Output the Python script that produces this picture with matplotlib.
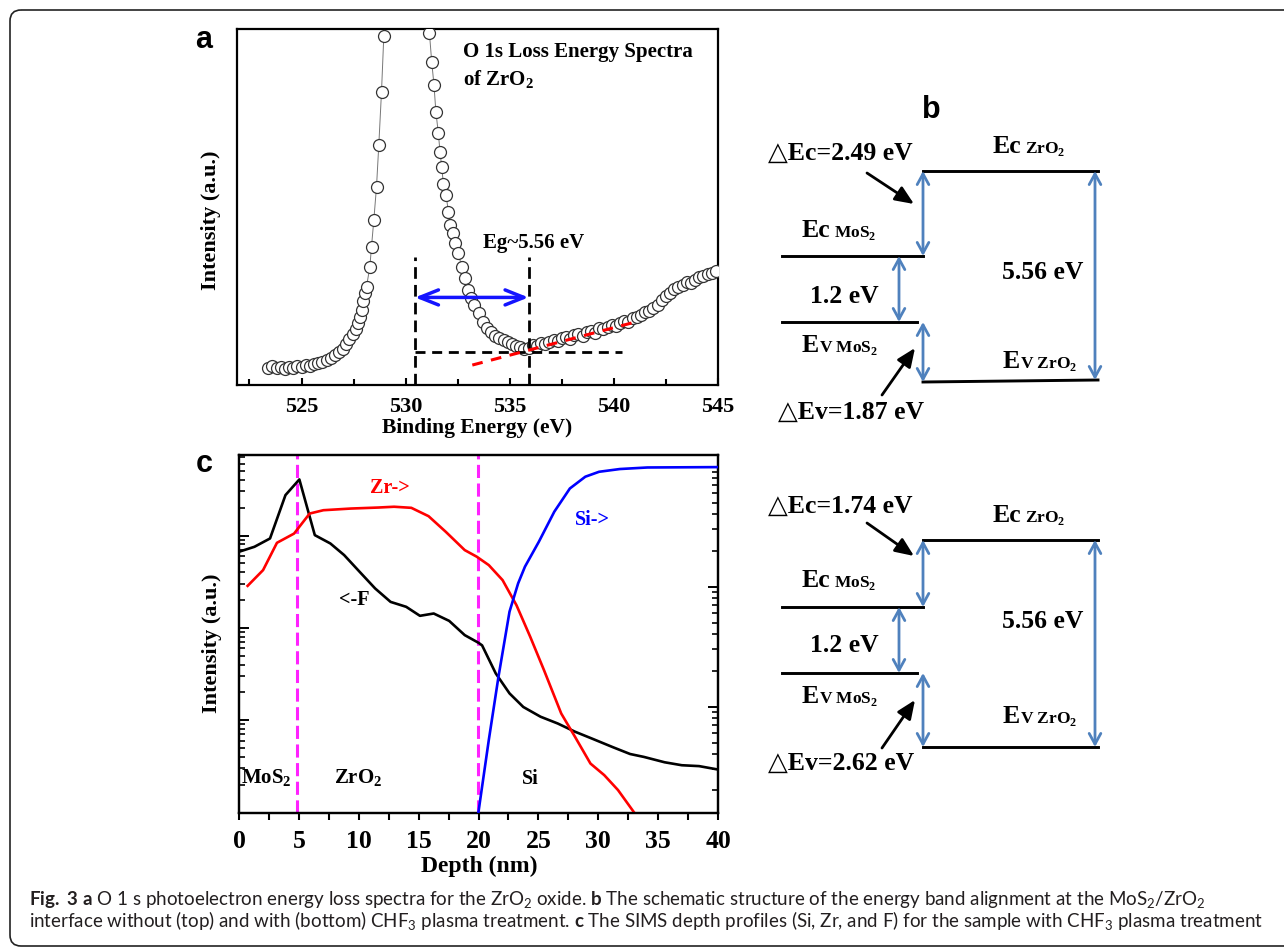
import matplotlib
matplotlib.use("Agg")
import matplotlib.pyplot as plt
from matplotlib.patches import FancyBboxPatch
from matplotlib.ticker import MultipleLocator, LogLocator, NullFormatter

# ------------------------------------------------------------------ data
# (a) O 1s loss spectrum of ZrO2
energy_a = [523.4, 523.6, 523.8, 524.0, 524.2, 524.4, 524.6, 524.8, 525.0, 525.2,
            525.4, 525.6, 525.8, 526.0, 526.2, 526.4, 526.6, 526.8, 527.0, 527.15,
            527.3, 527.45, 527.6, 527.7, 527.8, 527.88, 527.96, 528.04, 528.12, 528.28,
            528.36, 528.47, 528.6, 528.71, 528.84, 528.95, 529.1, 530.0, 531.02, 531.14,
            531.25, 531.36, 531.45, 531.57, 531.65, 531.73, 531.81, 531.94, 532.05, 532.13,
            532.26, 532.37, 532.53, 532.69, 532.85, 533.0, 533.15, 533.3, 533.5, 533.7,
            533.9, 534.1, 534.3, 534.5, 534.7, 534.9, 535.1, 535.3, 535.5, 535.7,
            535.9, 536.1, 536.3, 536.5, 536.7, 536.9, 537.1, 537.3, 537.5, 537.7,
            537.9, 538.1, 538.3, 538.5, 538.7, 538.9, 539.1, 539.3, 539.5, 539.7,
            539.9, 540.1, 540.3, 540.5, 540.7, 540.9, 541.1, 541.3, 541.5, 541.7,
            541.9, 542.1, 542.3, 542.5, 542.7, 542.9, 543.1, 543.3, 543.5, 543.7,
            543.9, 544.1, 544.3, 544.5, 544.7, 544.9]
intensity_a = [4.7, 5.2, 4.8, 5.0, 4.6, 5.1, 4.9, 5.3, 5.0, 5.5,
               5.4, 5.9, 6.2, 6.6, 7.0, 7.6, 8.3, 9.2, 10.2, 11.4,
               12.8, 14.3, 15.8, 17.3, 19.0, 21.1, 23.5, 25.8, 27.6, 33.2,
               38.9, 46.3, 55.7, 67.4, 82.4, 98.0, 118.0, 160.0, 108.0, 99.0,
               90.8, 84.3, 76.8, 70.7, 65.5, 61.3, 56.6, 53.4, 48.7, 44.9,
               42.6, 39.8, 37.0, 33.2, 30.0, 26.7, 24.5, 22.5, 20.1, 17.6,
               16.0, 14.8, 13.9, 13.2, 12.6, 12.0, 11.5, 11.0, 10.6, 10.2,
               10.5, 11.2, 11.0, 11.8, 11.5, 12.2, 12.6, 12.3, 13.1, 13.4,
               13.0, 14.0, 14.2, 13.8, 14.8, 15.2, 14.6, 15.9, 15.6, 16.3,
               16.8, 16.5, 17.4, 17.9, 17.6, 18.7, 19.0, 19.6, 20.4, 20.9,
               21.6, 22.6, 23.8, 24.9, 25.8, 26.9, 27.4, 28.2, 28.9, 28.6,
               29.6, 30.2, 30.6, 31.1, 31.5, 32.0]
eg_onsets = [530.45, 535.9]        # eV, the two onset markers
eg_baseline = 9.4
eg_hline_end = 540.4
eg_vline_top = 36.0
eg_arrow_level = 24.6
fit_x = [533.2, 541.1]
fit_y = [5.6, 17.8]
eg_label = "Eg~5.56 eV"
xticks_a = [525, 530, 535, 540, 545]

# (c) SIMS depth profiles
depth_F = [0.0, 1.29, 2.59, 3.88, 5.04, 6.33, 7.63, 8.78, 10.07, 11.37,
           12.66, 13.96, 15.11, 16.26, 17.55, 18.85, 20.0, 20.3, 21.44, 22.59,
           23.74, 25.18, 26.62, 28.06, 29.5, 31.22, 32.66, 33.81, 35.54, 36.98,
           38.42, 40.0]
F_counts = [6670, 7550, 9290, 27400, 40500, 10100, 8200, 6140, 4050, 2670,
            1910, 1690, 1350, 1430, 1190, 834, 689, 646, 321, 195,
            139, 109, 92, 75, 63, 51, 43, 40, 35, 32.5,
            31.8, 29.2]
depth_Zr = [0.72, 2.01, 3.17, 4.6, 5.9, 7.05, 9.35, 11.65, 12.95, 14.39,
            15.83, 17.27, 18.85, 19.86, 20.86, 22.01, 23.17, 24.32, 25.47, 26.91,
            28.06, 29.35, 30.5, 31.65, 32.95]
Zr_counts = [2850, 4220, 8340, 10500, 17300, 18800, 19600, 20100, 20500, 19950,
             16200, 10960, 6950, 5890, 4780, 3290, 1760, 800, 348, 118,
             66, 33.9, 25.4, 17.5, 10.2]
depth_Si = [20.0, 20.86, 21.67, 22.59, 23.31, 23.88, 25.04, 26.33, 27.63, 28.92,
            30.07, 31.8, 34.1, 40.0]
Si_counts = [133, 527, 1780, 6190, 10660, 14690, 23700, 42200, 65900, 82600,
             90800, 95700, 98600, 99300]
interfaces = [4.85, 19.95]
xticks_c = [0, 5, 10, 15, 20, 25, 30, 35, 40]

# (b) band alignment values (top: untreated, bottom: CHF3 treated)
dEc = [2.49, 1.74]
dEv = [1.87, 2.62]
gap_MoS2 = 1.2
gap_ZrO2 = 5.56

caption_1 = (r"$\mathbf{Fig.\ 3\ a}$ O 1 s photoelectron energy loss spectra for the ZrO$_\mathregular{2}$ oxide. "
             r"$\mathbf{b}$ The schematic structure of the energy band alignment at the "
             r"MoS$_\mathregular{2}$/ZrO$_\mathregular{2}$")
caption_2 = (r"interface without (top) and with (bottom) CHF$_\mathregular{3}$ plasma treatment. "
             r"$\mathbf{c}$ The SIMS depth profiles (Si, Zr, and F) for the sample with "
             r"CHF$_\mathregular{3}$ plasma treatment")

# ------------------------------------------------------------------ style
plt.rcParams["font.family"] = ["Liberation Serif", "DejaVu Sans"]
plt.rcParams["font.weight"] = "bold"
plt.rcParams["mathtext.fontset"] = "dejavusans"
plt.rcParams["mathtext.rm"] = "Lato"
plt.rcParams["mathtext.bf"] = "Lato:bold"
plt.rcParams["mathtext.it"] = "Lato:italic"

W, H = 1284, 949


def fx(x):
    return x / W


def fy(y):
    return 1 - y / H


fig = plt.figure(figsize=(W / 100, H / 100), dpi=100)

# overlay in pixel units (frame + schematic b)
ov = fig.add_axes([0, 0, 1, 1])
ov.set_xlim(0, W)
ov.set_ylim(H, 0)
ov.axis("off")
ov.add_patch(FancyBboxPatch((10, 10), 1300, 936,
                            boxstyle="round,pad=0,rounding_size=11",
                            fc="none", ec="#222222", lw=1.2))

# ------------------------------------------------------------------ panel a
axa = fig.add_axes([fx(237), fy(385), (718 - 237) / W, (385 - 29) / H])
axa.plot(energy_a, intensity_a, "-", color="#777777", lw=0.7, zorder=2)
axa.plot(energy_a, intensity_a, "o", ms=8.6, mfc="white", mec="#333333",
         mew=0.9, zorder=3, clip_on=True)
for xo in eg_onsets:
    axa.plot([xo, xo], [0, eg_vline_top], color="black", lw=2.0,
             dashes=(4.2, 2.2), zorder=4)
axa.plot([eg_onsets[0], eg_hline_end], [eg_baseline, eg_baseline], color="black",
         lw=2.0, dashes=(3.6, 2.4), zorder=4)
axa.plot(fit_x, fit_y, color="red", lw=2.2, dashes=(3.5, 2.8), zorder=5)
axa.annotate("", xy=(eg_onsets[1], eg_arrow_level), xytext=(eg_onsets[0], eg_arrow_level),
             arrowprops=dict(arrowstyle="<->,head_length=0.75,head_width=0.3",
                             color="#1414ff", lw=2.5, shrinkA=0, shrinkB=0,
                             mutation_scale=18), zorder=6)
axa.text(sum(eg_onsets) / 2 + 2.95, 40, eg_label, ha="center", va="center",
         fontsize=15, fontweight="bold")
axa.text(0.47, 0.935, "O 1s Loss Energy Spectra", transform=axa.transAxes,
         ha="left", va="center", fontsize=15, fontweight="bold")
axa.text(0.47, 0.857, r"of ZrO$_\mathregular{2}$", transform=axa.transAxes,
         ha="left", va="center", fontsize=15, fontweight="bold")
axa.set_xlim(521.9, 545)
axa.set_ylim(0, 100)
axa.set_xticks(xticks_a)
axa.xaxis.set_minor_locator(MultipleLocator(2.5))
axa.set_yticks([])
axa.tick_params(axis="x", which="major", direction="in", length=5, width=1.5,
                labelsize=16, pad=9)
axa.tick_params(axis="x", which="minor", direction="in", length=4, width=1.5)
for lab in axa.get_xticklabels():
    lab.set_fontweight("bold")
for sp in axa.spines.values():
    sp.set_linewidth(1.6)

# ------------------------------------------------------------------ panel c
axc = fig.add_axes([fx(239), fy(812.5), (718 - 239) / W, (812.5 - 455) / H])
axr = axc.twinx()
for xi in interfaces:
    axc.axvline(xi, color="#ff22ff", lw=2.2, dashes=(4.3, 1.8), zorder=1)
axc.plot(depth_F, F_counts, color="black", lw=1.9, zorder=3)
axc.plot(depth_Zr, Zr_counts, color="#ff0000", lw=1.9, zorder=3)
axr.plot(depth_Si, Si_counts, color="#0000ff", lw=1.9, zorder=3)
axc.set_yscale("log")
axr.set_yscale("log")
axc.set_xlim(0, 40)
axc.set_ylim(10, 7.45e4)
axr.set_ylim(131, 1.253e5)
axc.set_xticks(xticks_c)
axc.xaxis.set_minor_locator(MultipleLocator(2.5))
for ax in (axc, axr):
    ax.yaxis.set_major_locator(LogLocator(base=10))
    ax.yaxis.set_minor_locator(LogLocator(base=10, subs=[2, 3, 4, 5, 6, 7, 8, 9]))
    ax.yaxis.set_major_formatter(NullFormatter())
    ax.yaxis.set_minor_formatter(NullFormatter())
axc.tick_params(axis="y", which="major", direction="in", length=7, width=1.4)
axc.tick_params(axis="y", which="minor", direction="in", length=4, width=1.2)
axr.tick_params(axis="y", which="major", direction="in", length=7, width=1.4)
axr.tick_params(axis="y", which="minor", direction="in", length=4, width=1.2)
axc.tick_params(axis="x", which="major", direction="out", length=5, width=1.5,
                labelsize=18.5, pad=7.5)
axc.tick_params(axis="x", which="minor", direction="out", length=5, width=1.5)
for lab in axc.get_xticklabels():
    lab.set_fontweight("bold")
for ax in (axc, axr):
    for sp in ax.spines.values():
        sp.set_linewidth(1.6)

axc.text(10.9, 32400, "Zr->", color="#ff0000", fontsize=14.5, fontweight="bold",
         ha="left", va="center")
axc.text(28.06, 14700, "Si->", color="#0000ff", fontsize=14.5, fontweight="bold",
         ha="left", va="center")
axc.text(8.35, 2000, "<-F", color="black", fontsize=14.5, fontweight="bold",
         ha="left", va="center")
axc.text(0.14, 23.3, r"MoS$_\mathregular{2}$", fontsize=15, fontweight="bold",
         ha="left", va="center")
axc.text(7.9, 23.3, r"ZrO$_\mathregular{2}$", fontsize=15, fontweight="bold",
         ha="left", va="center")
axc.text(23.6, 23.3, "Si", fontsize=14.5, fontweight="bold", ha="left", va="center")

# axis titles (figure-placed)
fig.text(fx(211), fy(220), "Intensity (a.u.)", rotation=90, ha="center", va="center",
         fontsize=16, fontweight="bold")
fig.text(fx(212), fy(643), "Intensity (a.u.)", rotation=90, ha="center", va="center",
         fontsize=16, fontweight="bold")
fig.text(fx(477), fy(428), "Binding Energy (eV)", ha="center", va="center",
         fontsize=15.5, fontweight="bold")
fig.text(fx(479), fy(866), "Depth (nm)", ha="center", va="center",
         fontsize=17, fontweight="bold")

# panel letters
for letter, (px, py) in zip("abc", [(204, 48), (931, 118), (204, 472)]):
    fig.text(fx(px), fy(py), letter, family="Liberation Sans", fontweight="bold",
             fontsize=22, ha="center", va="baseline")

# ------------------------------------------------------------------ panel b schematic
B_LAYOUT = [
    dict(ecZ=171, ecM=256, evM=322, evZ=(382, 380), dEc_txt=(768, 160), dEv_txt=(778, 419),
         EcZ_txt=(993, 153), EcM_txt=(802, 237), EvM_txt=(802, 352), EvZ_txt=(1003, 368),
         gapM_txt=(810, 303), gapZ_txt=(1002, 279),
         arr_c=((867, 173), (914, 204)), arr_v=((882, 395), (915, 348))),
    dict(ecZ=540, ecM=607, evM=673, evZ=(747, 747), dEc_txt=(768, 513), dEv_txt=(768, 770),
         EcZ_txt=(993, 522), EcM_txt=(802, 587), EvM_txt=(802, 703), EvZ_txt=(1003, 723),
         gapM_txt=(810, 652), gapZ_txt=(1002, 628),
         arr_c=((867, 523), (914, 556)), arr_v=((882, 748), (915, 700))),
]
X_M0, X_M1, X_MV1, X_Z0, X_Z1 = 782, 923, 917, 923, 1098
X_AOFF, X_AGAP, X_AZ = 923, 899, 1095
BLUE = "#4f81bd"
BIG, SMALL = 18.5, 12.5


def two_part(x, y, big, small, gap):
    t = ov.text(x, y, big, fontsize=BIG, fontweight="bold", ha="left", va="baseline")
    ov.annotate(small, xy=(1.0, y), xycoords=(t, "data"), xytext=(gap, 0),
                textcoords="offset points", fontsize=SMALL, fontweight="bold",
                ha="left", va="baseline")


def blue_arrow(x, y0, y1):
    ov.annotate("", xy=(x, y1), xytext=(x, y0),
                arrowprops=dict(arrowstyle="<->,head_length=0.55,head_width=0.3",
                                color=BLUE, lw=2.0, shrinkA=0, shrinkB=0,
                                mutation_scale=14))


for L, dc, dv in zip(B_LAYOUT, dEc, dEv):
    ov.plot([X_Z0, X_Z1], [L["ecZ"], L["ecZ"]], color="black", lw=2.1)
    ov.plot([X_M0, X_M1], [L["ecM"], L["ecM"]], color="black", lw=2.1)
    ov.plot([X_M0, X_MV1], [L["evM"], L["evM"]], color="black", lw=2.1)
    ov.plot([X_Z0, X_Z1], list(L["evZ"]), color="black", lw=2.1)
    blue_arrow(X_AOFF, L["ecZ"], L["ecM"])
    blue_arrow(X_AGAP, L["ecM"], L["evM"])
    blue_arrow(X_AOFF, L["evM"], L["evZ"][0])
    blue_arrow(X_AZ, L["ecZ"], L["evZ"][1])
    for (tail, tip) in (L["arr_c"], L["arr_v"]):
        ov.annotate("", xy=tip, xytext=tail,
                    arrowprops=dict(arrowstyle="-|>,head_length=0.75,head_width=0.32",
                                    color="black", lw=2.0, shrinkA=0, shrinkB=0,
                                    mutation_scale=15))
    ov.text(*L["dEc_txt"], "\u25b3Ec=%.2f eV" % dc, fontsize=BIG, fontweight="bold",
            ha="left", va="baseline")
    ov.text(*L["dEv_txt"], "\u25b3Ev=%.2f eV" % dv, fontsize=BIG, fontweight="bold",
            ha="left", va="baseline")
    ov.text(*L["gapM_txt"], "%.1f eV" % gap_MoS2, fontsize=BIG, fontweight="bold",
            ha="left", va="baseline")
    ov.text(*L["gapZ_txt"], "%.2f eV" % gap_ZrO2, fontsize=BIG, fontweight="bold",
            ha="left", va="baseline")
    two_part(*L["EcZ_txt"], "Ec", r"ZrO$_\mathregular{2}$", 2)
    two_part(*L["EcM_txt"], "Ec", r"MoS$_\mathregular{2}$", 2)
    two_part(*L["EvM_txt"], "E", r"V MoS$_\mathregular{2}$", 0)
    two_part(*L["EvZ_txt"], "E", r"V ZrO$_\mathregular{2}$", 0)

# ------------------------------------------------------------------ caption
cap_kw = dict(family="Lato", fontweight="normal", color="#231f20", ha="left",
              va="baseline", math_fontfamily="custom")
c1 = fig.text(fx(29), fy(905), caption_1, fontsize=11.5, **cap_kw)
c2 = fig.text(fx(29), fy(927), caption_2, fontsize=11.5, **cap_kw)
renderer = fig.canvas.get_renderer()
w2 = c2.get_window_extent(renderer).width
scale = 1240 / w2
c1.set_fontsize(11.5 * scale)
c2.set_fontsize(11.5 * scale)

fig.savefig("out.png", dpi=100, facecolor="white")
